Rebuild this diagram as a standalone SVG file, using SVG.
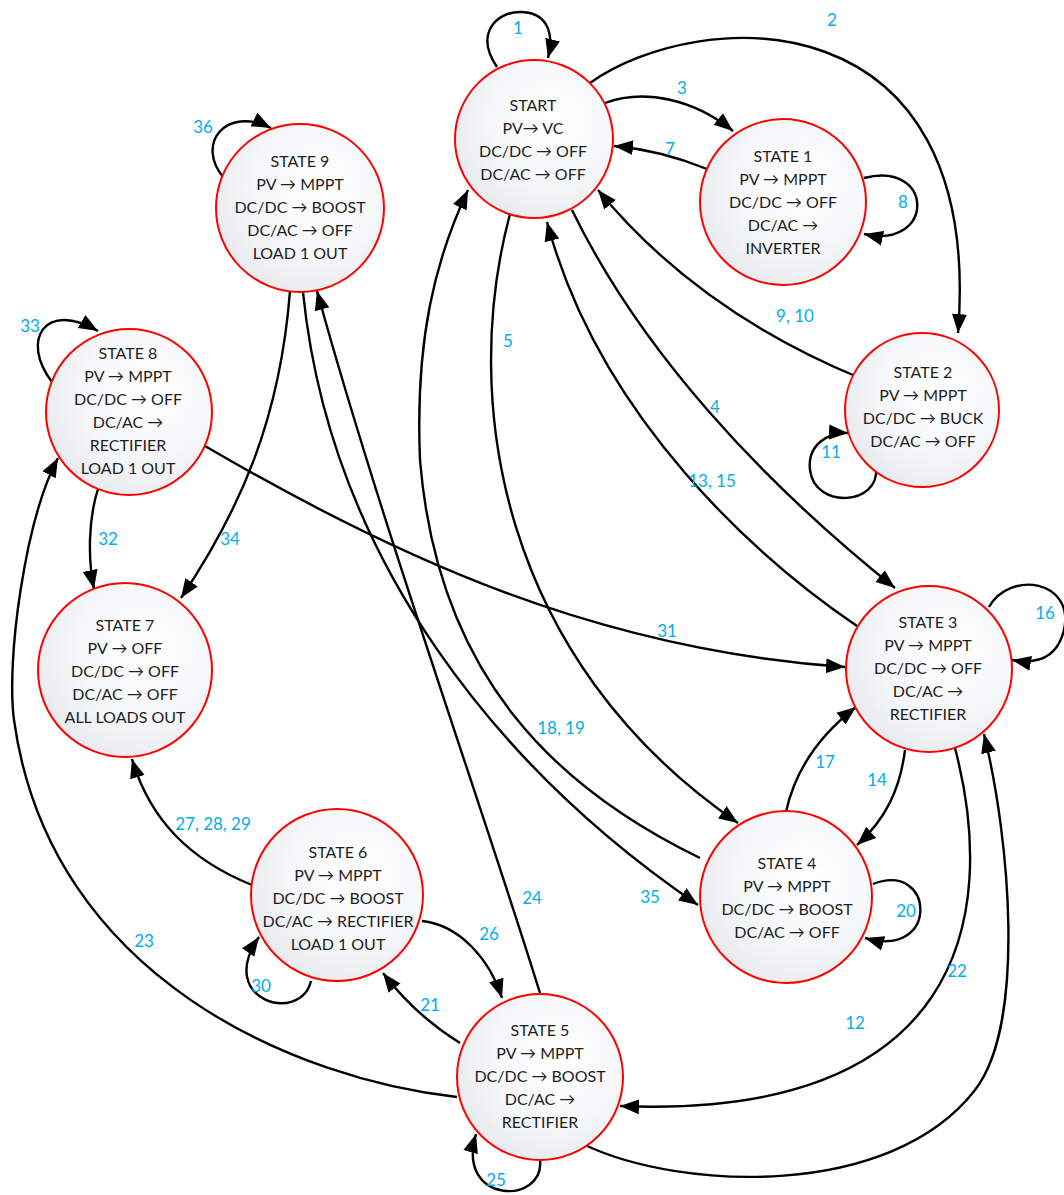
<svg xmlns="http://www.w3.org/2000/svg" width="1064" height="1195" viewBox="0 0 1064 1195">
  <defs>
    <radialGradient id="fillState" cx="0.62" cy="0.38" r="0.72">
      <stop offset="0" stop-color="#ffffff"/>
      <stop offset="0.55" stop-color="#f6f7f9"/>
      <stop offset="1" stop-color="#e5e8ed"/>
    </radialGradient>
    <marker id="ah" markerUnits="userSpaceOnUse" markerWidth="22" markerHeight="18" viewBox="0 0 22 18" refX="19" refY="9" orient="auto">
      <path d="M0,1.5 L19,9 L0,16.5 z" fill="#000"/>
    </marker>
    <style>
      .state { fill: url(#fillState); stroke: #ff0000; stroke-width: 2; }
      .t { font-family: Lato, "Liberation Sans", sans-serif; font-size: 16px; fill: #1e1e1e; text-anchor: middle; }
      .lbl { font-family: Lato, "Liberation Sans", sans-serif; font-size: 17px; fill: #00aee8; text-anchor: middle; }
      .edge { fill: none; stroke: #000; stroke-width: 2.4; marker-end: url(#ah); }
    </style>
  </defs>
  <rect width="1064" height="1195" fill="#ffffff"/>

  <!-- transitions -->
  <g id="connectors">
    <path class="edge" d="M 497 67 C 475 35, 495 12, 520 12 C 545 12, 555 30, 548 58"/>
    <path class="edge" d="M 590 83 C 700 5, 985 -5, 958 333"/>
    <path class="edge" d="M 605 103 C 645 88, 695 100, 733 131"/>
    <path class="edge" d="M 707 169 Q 660 150, 614 146"/>
    <path class="edge" d="M 864 178 C 935 160, 935 250, 864 234"/>
    <path class="edge" d="M 860 378 C 780 345, 680 290, 598 190"/>
    <path class="edge" d="M 876 468 C 880 505, 815 510, 810 470 C 807 445, 828 432, 848 433"/>
    <path class="edge" d="M 572 210 C 640 350, 760 480, 895 588"/>
    <path class="edge" d="M 857 626 C 760 560, 600 420, 547 222"/>
    <path class="edge" d="M 510 214 C 460 400, 500 660, 738 823"/>
    <path class="edge" d="M 700 858 C 560 790, 438 680, 420 460 C 415 340, 435 260, 468 190"/>
    <path class="edge" d="M 905 750 C 900 790, 885 820, 857 845"/>
    <path class="edge" d="M 786 812 C 795 770, 820 735, 856 707"/>
    <path class="edge" d="M 989 607 C 1010 570, 1075 580, 1064 630 C 1058 655, 1040 665, 1012 660"/>
    <path class="edge" d="M 873 884 C 935 860, 940 960, 865 938"/>
    <path class="edge" d="M 955 748 C 1000 920, 960 1120, 620 1106"/>
    <path class="edge" d="M 585 1145 C 680 1190, 890 1200, 975 1090 C 1026 1024, 1010 840, 984 734"/>
    <path class="edge" d="M 460 1043 Q 415 1015, 383 973"/>
    <path class="edge" d="M 422 921 C 460 925, 490 960, 502 998"/>
    <path class="edge" d="M 540 993 C 480 800, 380 520, 317 291"/>
    <path class="edge" d="M 540 1160 C 545 1205, 455 1205, 476 1134"/>
    <path class="edge" d="M 457 1097 C 300 1080, 50 980, 14 720 C 6 660, 25 520, 58 458"/>
    <path class="edge" d="M 252 885 C 190 860, 150 820, 132 759"/>
    <path class="edge" d="M 311 981 C 300 1025, 215 1000, 259 937"/>
    <path class="edge" d="M 98 489 C 88 520, 88 560, 94 589"/>
    <path class="edge" d="M 290 291 C 280 420, 240 510, 181 598"/>
    <path class="edge" d="M 205 446 C 400 560, 600 650, 845 667"/>
    <path class="edge" d="M 52 382 C 20 340, 45 300, 98 331"/>
    <path class="edge" d="M 224 178 C 195 145, 225 105, 271 128"/>
    <path class="edge" d="M 303 292 C 330 560, 500 770, 698 905"/>
  </g>

  <!-- transition numbers -->
  <g id="labels">
    <text class="lbl" x="518" y="34">1</text>
    <text class="lbl" x="832" y="26">2</text>
    <text class="lbl" x="682" y="94">3</text>
    <text class="lbl" x="670" y="155">7</text>
    <text class="lbl" x="903" y="208">8</text>
    <text class="lbl" x="795" y="322">9, 10</text>
    <text class="lbl" x="508" y="347">5</text>
    <text class="lbl" x="715" y="413">4</text>
    <text class="lbl" x="831" y="458">11</text>
    <text class="lbl" x="712" y="487">13, 15</text>
    <text class="lbl" x="1045" y="619">16</text>
    <text class="lbl" x="667" y="637">31</text>
    <text class="lbl" x="108" y="545">32</text>
    <text class="lbl" x="230" y="545">34</text>
    <text class="lbl" x="30" y="332">33</text>
    <text class="lbl" x="203" y="133">36</text>
    <text class="lbl" x="561" y="734">18, 19</text>
    <text class="lbl" x="825" y="768">17</text>
    <text class="lbl" x="877" y="786">14</text>
    <text class="lbl" x="213" y="830">27, 28, 29</text>
    <text class="lbl" x="532" y="904">24</text>
    <text class="lbl" x="650" y="903">35</text>
    <text class="lbl" x="906" y="917">20</text>
    <text class="lbl" x="144" y="947">23</text>
    <text class="lbl" x="489" y="940">26</text>
    <text class="lbl" x="261" y="992">30</text>
    <text class="lbl" x="430" y="1011">21</text>
    <text class="lbl" x="957" y="977">22</text>
    <text class="lbl" x="855" y="1029">12</text>
    <text class="lbl" x="496" y="1186">25</text>
  </g>

  <!-- states -->
  <g id="start">
    <circle class="state" cx="534" cy="139" r="79"/>
    <text class="t" x="533" y="111">START</text>
    <text class="t" x="533" y="134">PV→ VC</text>
    <text class="t" x="533" y="157">DC/DC → OFF</text>
    <text class="t" x="533" y="180">DC/AC → OFF</text>
  </g>
  <g id="state1">
    <circle class="state" cx="783" cy="202" r="83"/>
    <text class="t" x="783" y="162">STATE 1</text>
    <text class="t" x="783" y="185">PV → MPPT</text>
    <text class="t" x="783" y="208">DC/DC → OFF</text>
    <text class="t" x="783" y="231">DC/AC →</text>
    <text class="t" x="783" y="254">INVERTER</text>
  </g>
  <g id="state2">
    <circle class="state" cx="922" cy="410" r="77"/>
    <text class="t" x="923" y="378">STATE 2</text>
    <text class="t" x="923" y="401">PV → MPPT</text>
    <text class="t" x="923" y="424">DC/DC → BUCK</text>
    <text class="t" x="923" y="447">DC/AC → OFF</text>
  </g>
  <g id="state3">
    <circle class="state" cx="929" cy="669" r="83"/>
    <text class="t" x="928" y="628">STATE 3</text>
    <text class="t" x="928" y="651">PV → MPPT</text>
    <text class="t" x="928" y="674">DC/DC → OFF</text>
    <text class="t" x="928" y="697">DC/AC →</text>
    <text class="t" x="928" y="720">RECTIFIER</text>
  </g>
  <g id="state4">
    <circle class="state" cx="786" cy="897" r="86"/>
    <text class="t" x="787" y="869">STATE 4</text>
    <text class="t" x="787" y="892">PV → MPPT</text>
    <text class="t" x="787" y="915">DC/DC → BOOST</text>
    <text class="t" x="787" y="938">DC/AC → OFF</text>
  </g>
  <g id="state5">
    <circle class="state" cx="540" cy="1077" r="83"/>
    <text class="t" x="540" y="1036">STATE 5</text>
    <text class="t" x="540" y="1059">PV → MPPT</text>
    <text class="t" x="540" y="1082">DC/DC → BOOST</text>
    <text class="t" x="540" y="1105">DC/AC →</text>
    <text class="t" x="540" y="1128">RECTIFIER</text>
  </g>
  <g id="state6">
    <circle class="state" cx="337" cy="895" r="86"/>
    <text class="t" x="338" y="858">STATE 6</text>
    <text class="t" x="338" y="881">PV → MPPT</text>
    <text class="t" x="338" y="904">DC/DC → BOOST</text>
    <text class="t" x="338" y="927">DC/AC → RECTIFIER</text>
    <text class="t" x="338" y="950">LOAD 1 OUT</text>
  </g>
  <g id="state7">
    <circle class="state" cx="125" cy="670" r="87"/>
    <text class="t" x="125" y="631">STATE 7</text>
    <text class="t" x="125" y="654">PV → OFF</text>
    <text class="t" x="125" y="677">DC/DC → OFF</text>
    <text class="t" x="125" y="700">DC/AC → OFF</text>
    <text class="t" x="125" y="723">ALL LOADS OUT</text>
  </g>
  <g id="state8">
    <circle class="state" cx="129" cy="412" r="83"/>
    <text class="t" x="128" y="359">STATE 8</text>
    <text class="t" x="128" y="382">PV → MPPT</text>
    <text class="t" x="128" y="405">DC/DC → OFF</text>
    <text class="t" x="128" y="428">DC/AC →</text>
    <text class="t" x="128" y="451">RECTIFIER</text>
    <text class="t" x="128" y="474">LOAD 1 OUT</text>
  </g>
  <g id="state9">
    <circle class="state" cx="300" cy="208" r="84"/>
    <text class="t" x="300" y="167">STATE 9</text>
    <text class="t" x="300" y="190">PV → MPPT</text>
    <text class="t" x="300" y="213">DC/DC → BOOST</text>
    <text class="t" x="300" y="236">DC/AC → OFF</text>
    <text class="t" x="300" y="259">LOAD 1 OUT</text>
  </g>
</svg>
